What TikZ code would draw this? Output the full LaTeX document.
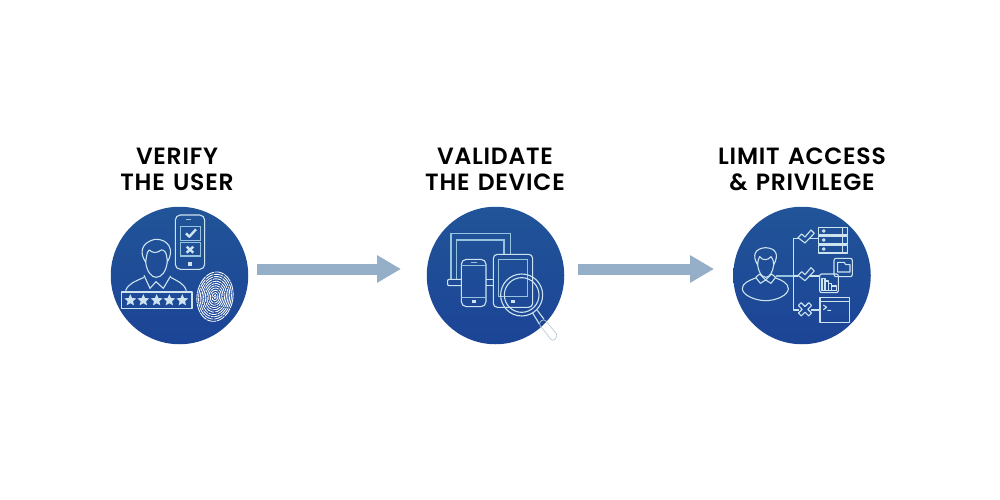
\documentclass[tikz,border=0pt]{standalone}
\usepackage{fontspec}
\setmainfont[LetterSpace = 3.2, WordSpace = 1.3]{Poppins SemiBold}
\usetikzlibrary{arrows.meta,shapes.geometric}
\definecolor{badgetop}{RGB}{33,84,152}
\definecolor{badgebottom}{RGB}{28,68,150}
\definecolor{iconline}{RGB}{205,228,240}
\definecolor{iconsoft}{RGB}{150,196,222}
\definecolor{flowblue}{RGB}{150,175,200}
\tikzset{
	badge/.style = {circle, minimum size = 137.5pt, inner sep = 0pt, top color = badgetop, bottom color = badgebottom},
	titlelabel/.style = {align = center, font = \fontsize{23.5}{26}\selectfont, text = black},
	flowarrow/.style = {draw = flowblue, line width = 11pt, -{Triangle[length = 24pt, width = 26pt]}},
	iconstroke/.style = {draw = iconline, line width = 1.1pt, line join = round},
	softstroke/.style = {draw = iconsoft, line width = 1.6pt},
	pwstar/.style = {star, star points = 5, star point ratio = 2.2, minimum size = 12.5pt, inner sep = 0pt, fill = iconline}
}
\begin{document}
\begin{tikzpicture} [x = 1pt, y = -1pt]
	\useasboundingbox (0,0) rectangle (1000,500);
	\node [badge] (verify) at (179.5,275.5) {};
	\node [badge] (validate) at (495.5,275.5) {};
	\node [badge] (limit) at (802,275.5) {};
	\node [titlelabel] (verifytext) at (177,169.5) {VERIFY\\THE USER};
	\node [titlelabel] (validatetext) at (495,169.5) {VALIDATE\\THE DEVICE};
	\node [titlelabel] (limittext) at (802,169.5) {LIMIT ACCESS\\\& PRIVILEGE};
	\coordinate (firststart) at (257,269);
	\coordinate (firstend) at (401,269);
	\coordinate (secondstart) at (578,269);
	\coordinate (secondend) at (714,269);
	\draw [flowarrow] (firststart) -- (firstend);
	\draw [flowarrow] (secondstart) -- (secondend);
	% user icon
	\scope [shift = {(100,200)}, scale = 0.3333]
	\draw [iconstroke, rounded corners = 5pt] (226,45) rectangle (314,208);
	\draw [softstroke] (258,59) -- (272,59);
	\draw [softstroke] (242,80) rectangle (302,122);
	\draw [softstroke] (242,128) rectangle (302,168);
	\draw [iconstroke, line width = 2.4pt] (258,100) -- (268,110) -- (288,88);
	\draw [iconstroke, line width = 2.4pt] (260,140) -- (280,158) (280,140) -- (260,158);
	\fill [iconline] (264,186) rectangle (275,198);
	\draw [iconstroke] (137,186) .. controls (118,160) and (122,128) .. (165,118) .. controls (205,116) and (225,150) .. (202,186) .. controls (200,150) and (190,150) .. (184,150) .. controls (170,160) and (158,160) .. (148,150) .. controls (140,155) and (140,170) .. (137,186);
	\draw [iconstroke] (137,186) .. controls (140,215) and (155,232) .. (168,232) .. controls (185,232) and (198,215) .. (202,186);
	\draw [iconstroke] (132,226) -- (150,265) -- (168,245) -- (190,265) -- (212,228);
	\draw [iconstroke] (132,232) .. controls (105,245) and (85,250) .. (77,272);
	\draw [iconstroke] (212,232) .. controls (235,245) and (252,250) .. (259,272);
	\draw [iconstroke, line width = 1.3pt] (64,276) rectangle (276,326);
	\foreach \x [count = \i] in {91,130,170,208,247}
		\node [pwstar] (userstar\i) at (\x,301) {};
	\scope [rotate around = {-8:(345,290)}]
	\foreach \r in {4,9,...,54}
		\draw [draw = white, line width = 0.85pt, dash pattern = on 9pt off 0.8pt] (345,290) ellipse [x radius = \r, y radius = 1.38*\r];
	\endscope
	\endscope
	% device icon
	\scope [shift = {(420,200)}, scale = 0.3333]
	\draw [softstroke] (93,238) -- (93,100) -- (272,100) -- (272,162);
	\draw [softstroke] (110,238) -- (110,120) -- (252,120) -- (252,162);
	\draw [iconstroke, rounded corners = 1pt] (124,238) -- (83,238) -- (83,257) -- (124,257);
	\draw [iconstroke] (198,238) -- (220,238) (198,257) -- (220,257);
	\draw [iconstroke, rounded corners = 5pt] (124,178) rectangle (198,320);
	\draw [softstroke] (124,197) -- (198,197) (124,292) -- (198,292);
	\draw [softstroke] (152,187) -- (172,187);
	\fill [iconline] (155,300) rectangle (168,309);
	\draw [iconstroke, rounded corners = 4pt] (220,163) rectangle (338,322);
	\draw [softstroke] (235,178) rectangle (322,290);
	\fill [iconline] (274,299) rectangle (285,309);
	\draw [iconstroke] (305,285) circle (63);
	\draw [iconstroke] (305,285) circle (52);
	\draw [iconstroke] (338,339) -- (358,372) (352,331) -- (372,358);
	\draw [draw = iconline!75!gray, line width = 0.7pt, rounded corners = 3pt] (355,370) -- (372,356) -- (414,407) -- (398,425) -- cycle;
	\endscope
	% access icon
	\scope [shift = {(725,200)}, scale = 0.3333]
	\draw [iconstroke] (98,195) .. controls (80,165) and (90,145) .. (122,143) .. controls (155,145) and (162,165) .. (146,195) .. controls (145,180) and (142,172) .. (138,170) .. controls (128,182) and (112,182) .. (104,170) .. controls (100,175) and (98,185) .. (98,195);
	\draw [iconstroke] (98,195) .. controls (100,215) and (110,232) .. (122,232) .. controls (134,232) and (144,215) .. (146,195);
	\draw [iconstroke] (92,232) -- (104,222) -- (122,240) -- (140,222) -- (152,232) -- (138,250) -- (122,240) -- (106,250) -- cycle;
	\draw [iconstroke] (92,234) .. controls (70,242) and (52,250) .. (52,266) .. controls (52,285) and (90,302) .. (122,302) .. controls (155,302) and (190,285) .. (190,266) .. controls (190,250) and (170,240) .. (152,234);
	\draw [softstroke] (152,228) -- (205,228);
	\draw [iconstroke] (222,115) -- (205,115) -- (205,330) -- (222,330);
	\draw [iconstroke] (205,228) -- (220,228);
	\draw [iconstroke] (219,113) -- (230,102) -- (240,111) -- (258,90) -- (268,100) -- (240,129) -- cycle;
	\draw [iconstroke] (219,226) -- (230,215) -- (240,224) -- (258,203) -- (268,213) -- (240,242) -- cycle;
	\draw [iconstroke] (256,115) -- (280,115);
	\draw [iconstroke] (256,228) -- (284,228);
	\draw [iconstroke] (258,330) -- (285,330);
	\foreach \y in {82,109,136} {
		\draw [iconstroke] (280,\y) rectangle (368,\y+23);
		\draw [iconstroke] (352,\y) -- (352,\y+23);
		\draw [iconstroke] (296,\y+11) circle (4);
	}
	\scope [shift = {(240,328)}, rotate = 45]
	\draw [iconstroke] (-6,-22) -- (6,-22) -- (6,-6) -- (22,-6) -- (22,6) -- (6,6) -- (6,22) -- (-6,22) -- (-6,6) -- (-22,6) -- (-22,-6) -- (-6,-6) -- cycle;
	\endscope
	\draw [iconstroke, rounded corners = 2pt] (327,175) rectangle (382,230);
	\draw [iconstroke] (338,216) -- (338,187) -- (358,187) -- (362,194) -- (375,194) -- (375,216) -- cycle;
	\draw [iconstroke, rounded corners = 2pt] (284,222) rectangle (340,278);
	\draw [iconstroke] (291,272) -- (291,235) -- (300,235) -- (300,272) (300,272) -- (300,243) -- (310,243) -- (310,272) (310,272) -- (310,250) -- (320,250) -- (320,272) (320,272) -- (320,258) -- (334,258) -- (334,272) -- (291,272);
	\draw [iconstroke] (285,292) rectangle (373,368);
	\draw [iconstroke] (285,304) -- (373,304);
	\draw [iconstroke] (295,315) -- (305,322) -- (295,329) (307,331) -- (318,331);
	\endscope
\end{tikzpicture}
\end{document}
